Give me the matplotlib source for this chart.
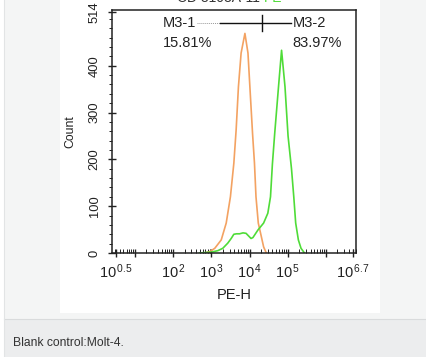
import numpy as np
import matplotlib
matplotlib.use("Agg")
import matplotlib.pyplot as plt
from matplotlib.patches import Rectangle
from matplotlib.lines import Line2D
from matplotlib.ticker import MultipleLocator, FixedLocator, LogLocator, NullFormatter

plt.rcParams["font.family"] = ["Liberation Sans", "DejaVu Sans"]
plt.rcParams["mathtext.fontset"] = "custom"
plt.rcParams["mathtext.rm"] = "Liberation Sans"
plt.rcParams["mathtext.it"] = "Liberation Sans"

# histogram traces, x as log10(PE-H), y as count
orange_log = [2.82, 2.96, 3.09, 3.26, 3.39, 3.50, 3.59, 3.65, 3.71, 3.78, 3.88,
              3.96, 4.01, 4.08, 4.13, 4.17, 4.23, 4.31, 4.37, 4.44]
orange_cnt = [0, 3, 10, 28, 64, 120, 192, 263, 355, 427, 469,
              427, 355, 255, 192, 120, 64, 35, 13, 0]

green_log = [2.69, 3.01, 3.17, 3.30, 3.43, 3.52, 3.59, 3.66, 3.74, 3.83, 3.91,
             4.04, 4.09, 4.22, 4.37, 4.48, 4.55, 4.60, 4.66, 4.76, 4.84,
             4.93, 5.01, 5.10, 5.16, 5.21, 5.28, 5.35, 5.44]
green_cnt = [0, 2, 5, 10, 21, 31, 40, 41, 41, 43, 42,
             31, 33, 49, 64, 85, 120, 190, 255, 355, 433,
             355, 250, 180, 120, 64, 28, 10, 0]

# gate marker M3-1 / M3-2
gate_edges = [3.22, 4.34, 5.10]
gate_level = 491
gate_names = ["M3-1", "M3-2"]
gate_pcts = ["15.81%", "83.97%"]

xtick_pos = [0.5, 2, 3, 4, 5, 6.7]
xtick_txt = [r"$10^{\,0.5}$", r"$10^{\,2}$", r"$10^{\,3}$", r"$10^{\,4}$", r"$10^{\,5}$", r"$10^{\,6.7}$"]
ytick_pos = [0, 100, 200, 300, 400, 514]

W, H = 426, 357
fig = plt.figure(figsize=(W / 100, H / 100), dpi=100)
fig.patch.set_facecolor("white")


def fr(x, y):
    return x / W, 1 - y / H


# page background, white panel, caption band
fig.add_artist(Rectangle(fr(4, 357), (W - 4) / W, 357 / H, transform=fig.transFigure,
                         facecolor="#f4f5f5", edgecolor="none", zorder=-5))
fig.add_artist(Rectangle(fr(60, 313), 320 / W, 313 / H, transform=fig.transFigure,
                         facecolor="white", edgecolor="none", zorder=-4))
fig.add_artist(Rectangle(fr(4, 357), (W - 4) / W, 38 / H, transform=fig.transFigure,
                         facecolor="#ecedee", edgecolor="none", zorder=-4))
fig.add_artist(Line2D([4 / W, 1], [1 - 319 / H] * 2, transform=fig.transFigure,
                      color="#d9dbdc", linewidth=0.8))
fig.add_artist(Line2D([4 / W] * 2, [0, 1], transform=fig.transFigure,
                      color="#e2e4e5", linewidth=0.8))

ax = fig.add_axes([111.7 / W, 1 - 253 / H, (356 - 111.7) / W, (253 - 10) / H])
ax.set_facecolor("white")

ax.plot(10 ** np.array(orange_log), orange_cnt, color="#f3a262", linewidth=1.2)
ax.plot(10 ** np.array(green_log), green_cnt, color="#4fdc38", linewidth=1.2)

ax.set_xscale("log")
ax.set_xlim(10 ** 0.39, 10 ** 6.79)
ax.set_ylim(0, 519)

ax.xaxis.set_major_locator(FixedLocator([10 ** v for v in xtick_pos] + [10, 1e6]))
ax.set_xticklabels(xtick_txt + ["", ""])
ax.xaxis.set_minor_locator(LogLocator(base=10, subs=np.arange(2, 10), numticks=20))
ax.xaxis.set_minor_formatter(NullFormatter())
ax.tick_params(axis="x", which="major", direction="inout", length=6, width=1.0,
               labelsize=10.5, pad=4, colors="#222222")
ax.tick_params(axis="x", which="minor", direction="in", length=3, width=0.7, color="#222222")

ax.set_yticks(ytick_pos)
ax.set_yticklabels([str(v) for v in ytick_pos], rotation=90, va="center")
ax.yaxis.set_minor_locator(MultipleLocator(20))
ax.tick_params(axis="y", which="major", direction="inout", length=6, width=1.0,
               labelsize=9.3, pad=5, colors="#222222")
ax.tick_params(axis="y", which="minor", direction="out", length=2.5, width=0.7, color="#222222")

for s in ax.spines.values():
    s.set_linewidth(1.1)
    s.set_color("#222222")

ax.set_xlabel("PE-H", fontsize=10.5, color="#222222", labelpad=5)
ax.set_ylabel("Count", fontsize=8.8, color="#222222", labelpad=9)

# gate bar
ax.plot([10 ** 2.62, 10 ** gate_edges[0]], [gate_level] * 2, color="#999999",
        linewidth=0.7, linestyle=(0, (1, 1)))
ax.plot([10 ** gate_edges[0], 10 ** gate_edges[2]], [gate_level] * 2, color="#111111",
        linewidth=1.0)
ax.plot([10 ** gate_edges[1]] * 2, [gate_level - 17, gate_level + 17], color="#111111",
        linewidth=1.0)
ax.text(10 ** 1.73, gate_level, gate_names[0], fontsize=10.5, va="center", ha="left", color="#222222")
ax.text(10 ** 1.73, gate_level - 43, gate_pcts[0], fontsize=10.5, va="center", ha="left", color="#222222")
ax.text(10 ** 5.12, gate_level, gate_names[1], fontsize=10.5, va="center", ha="left", color="#222222")
ax.text(10 ** 5.12, gate_level - 43, gate_pcts[1], fontsize=10.5, va="center", ha="left", color="#222222")

# title, clipped at the top edge in the source image
fig.text(177 / W, 1 + 1.5 / H, "CD 3103A-11", fontsize=10, color="#333333", ha="left", va="center")
fig.text(264 / W, 1 + 1.5 / H, "PE", fontsize=10, color="#4fdc38", ha="left", va="center")

fig.text(13 / W, 1 - 343 / H, "Blank control:Molt-4.", fontsize=8.7, color="#333333",
         ha="left", va="center")

fig.savefig("out.png", dpi=100)
